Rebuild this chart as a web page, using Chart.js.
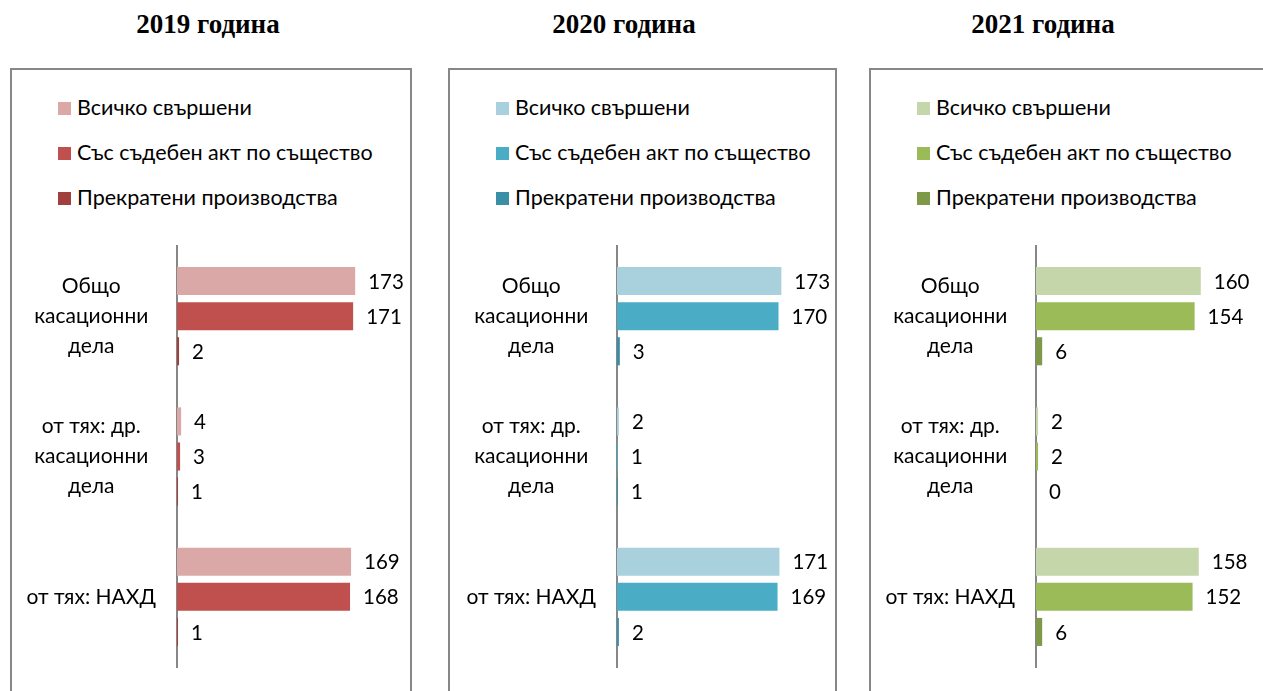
<!DOCTYPE html>
<html>
<head>
<meta charset="utf-8">
<script src="https://cdn.jsdelivr.net/npm/chart.js@4/dist/chart.umd.min.js"></script>
<style>
  body { margin: 0; width: 1263px; height: 691px; overflow: hidden; background: #fff; font-family: Lato, sans-serif; }
  .title { position: absolute; top: 9px; width: 300px; text-align: center; font: bold 27px "Liberation Serif", serif; color: #000; }
  .box { position: absolute; top: 68px; height: 660px; border: 2px solid #878787; box-sizing: border-box; }
  .legend { position: absolute; font-size: 21.5px; color: #000; }
  .legend div { height: 45px; line-height: 30px; white-space: nowrap; }
  .legend span { display: inline-block; width: 13px; height: 13px; margin-right: 6px; vertical-align: 0px; }
  .wrap { position: absolute; top: 236px; height: 441px; }
</style>
</head>
<body>
<script>
const categories = [['Общо', 'касационни', 'дела'], ['от тях: др.', 'касационни', 'дела'], 'от тях: НАХД'];
const seriesNames = ['Всичко свършени', 'Със съдебен акт по същество', 'Прекратени производства'];
const years = ['2019 година', '2020 година', '2021 година'];

const total2019 = [173, 4, 169];
const merits2019 = [171, 3, 168];
const ended2019 = [2, 1, 1];

const total2020 = [173, 2, 171];
const merits2020 = [170, 1, 169];
const ended2020 = [3, 1, 2];

const total2021 = [160, 2, 158];
const merits2021 = [154, 2, 152];
const ended2021 = [6, 0, 6];

const colors2019 = ['#D9A8A7', '#C0504D', '#A0403D'];
const colors2020 = ['#A9D0DD', '#4BACC6', '#3A8FA6'];
const colors2021 = ['#C5D6AA', '#9BBB59', '#7E9A48'];

// layout of the three panels (page pixels)
const panels = [
    { year: years[0], data: [total2019, merits2019, ended2019], colors: colors2019, left: 10, width: 402, titleX: 208, axis: 167, ppu: 1.03 },
    { year: years[1], data: [total2020, merits2020, ended2020], colors: colors2020, left: 448, width: 389, titleX: 624, axis: 169, ppu: 0.95 },
    { year: years[2], data: [total2021, merits2021, ended2021], colors: colors2021, left: 869, width: 402, titleX: 1043, axis: 167, ppu: 1.03 }
];
const xMax = 200;

const valueLabels = {
    id: 'valueLabels',
    afterDatasetsDraw(chart) {
        const ctx = chart.ctx;
        ctx.save();
        ctx.font = '20.5px Lato';
        ctx.fillStyle = '#000';
        ctx.textAlign = 'left';
        ctx.textBaseline = 'middle';
        chart.data.datasets.forEach((ds, i) => {
            chart.getDatasetMeta(i).data.forEach((bar, j) => {
                ctx.fillText(ds.data[j], bar.x + 13, bar.y + 1);
            });
        });
        ctx.restore();
    }
};

panels.forEach(p => {
    const title = document.createElement('div');
    title.className = 'title';
    title.style.left = (p.titleX - 150) + 'px';
    title.textContent = p.year;
    document.body.appendChild(title);

    const box = document.createElement('div');
    box.className = 'box';
    box.style.left = p.left + 'px';
    box.style.width = p.width + 'px';
    document.body.appendChild(box);

    const legend = document.createElement('div');
    legend.className = 'legend';
    legend.style.left = (p.left + 48) + 'px';
    legend.style.top = '92px';
    legend.innerHTML = seriesNames.map((n, i) =>
        `<div><span style="background:${p.colors[i]}"></span>${n}</div>`).join('');
    document.body.appendChild(legend);

    const wrap = document.createElement('div');
    wrap.className = 'wrap';
    wrap.style.left = p.left + 'px';
    wrap.style.width = p.width + 'px';
    const canvas = document.createElement('canvas');
    wrap.appendChild(canvas);
    document.body.appendChild(wrap);

    const rightPad = p.width - p.axis - xMax * p.ppu;

    new Chart(canvas, {
        type: 'bar',
        data: {
            labels: categories,
            datasets: seriesNames.map((n, i) => ({
                label: n,
                data: p.data[i],
                backgroundColor: p.colors[i],
                borderWidth: 0,
                categoryPercentage: 0.75,
                barPercentage: 0.8
            }))
        },
        options: {
            indexAxis: 'y',
            responsive: true,
            maintainAspectRatio: false,
            animation: false,
            layout: { padding: { top: 10, bottom: 10, left: 0, right: rightPad } },
            plugins: { legend: { display: false }, tooltip: { enabled: false } },
            scales: {
                x: { display: false, min: 0, max: xMax },
                y: {
                    grid: { display: false },
                    border: { display: true, color: '#878787', width: 2 },
                    ticks: {
                        color: '#000',
                        padding: 13,
                        crossAlign: 'center',
                        font: { family: 'Lato', size: 21, lineHeight: '30px' }
                    },
                    afterFit: scale => {
                        scale.width = p.axis;
                        scale.paddingTop = 0;
                        scale.paddingBottom = 0;
                    }
                }
            }
        },
        plugins: [valueLabels]
    });
});
</script>
</body>
</html>
